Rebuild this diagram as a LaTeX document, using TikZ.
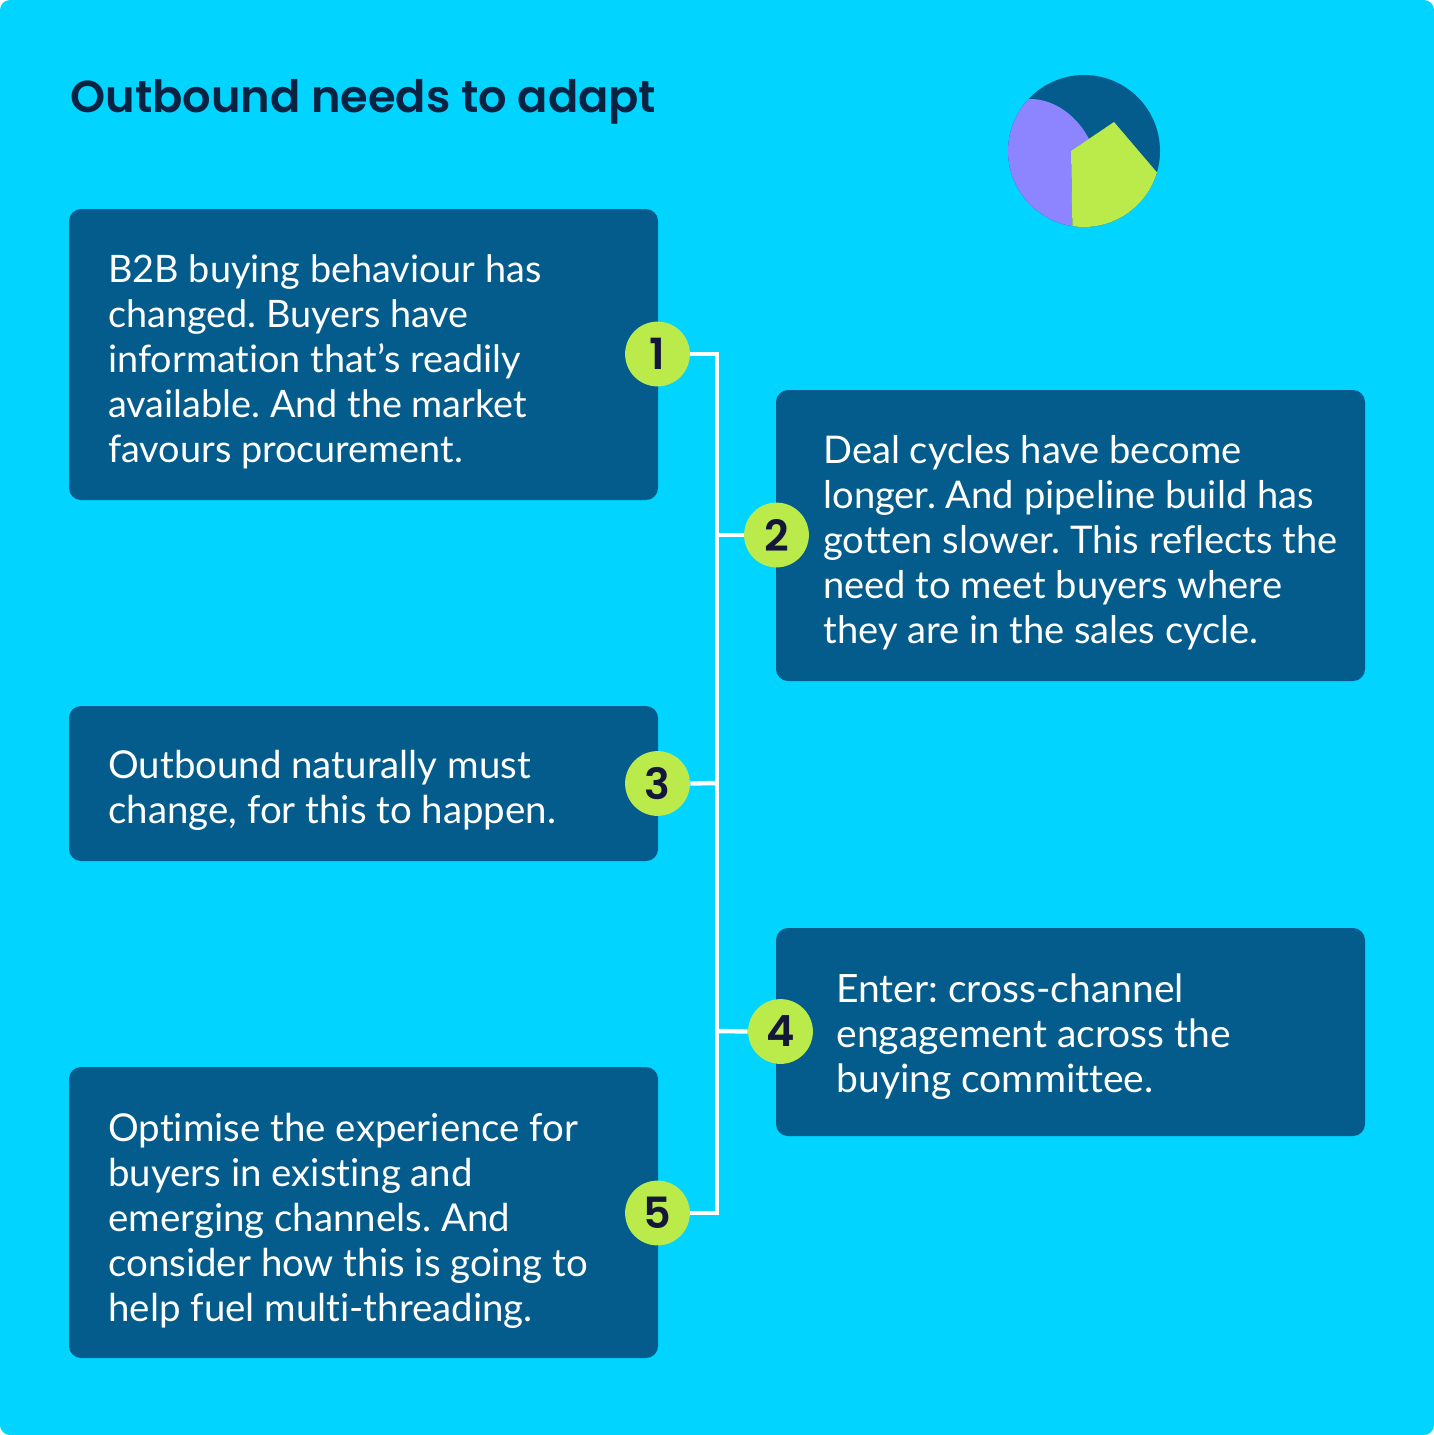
\documentclass[tikz,border=0pt]{standalone}
\usepackage{fontspec}
\setmainfont{Lato}[Ligatures=NoCommon]
\newfontfamily\headfont{Poppins SemiBold}
\definecolor{bgc}{HTML}{00D4FF}
\definecolor{boxc}{HTML}{035C8C}
\definecolor{limec}{HTML}{BBEB4B}
\definecolor{purpc}{HTML}{8C85FF}
\definecolor{navyc}{HTML}{14163A}
\definecolor{titlec}{HTML}{0B2343}
\tikzset{
  card/.style={fill=boxc,draw=none,rounded corners=6pt},
  cardtext/.style={anchor=north west,inner sep=0pt,text=white,align=left,font=\frenchspacing\fontsize{#1}{22.5}\selectfont},
  badge/.style={circle,fill=limec,draw=none,minimum size=32.4pt,inner sep=0pt,text=navyc,font=\headfont\fontsize{21.5}{21.5}\selectfont},
  wire/.style={draw=white,line width=2.2pt}
}
\begin{document}
\begin{tikzpicture}[x=0.5pt,y=-0.5pt]
\useasboundingbox (0,0) rectangle (1434,1435);
\fill[white] (0,0) rectangle (1434,1435);
\fill[bgc,rounded corners=5pt] (0,0) rectangle (1434,1435);
\node[anchor=base west,inner sep=0pt,text=titlec,font=\headfont\fontsize{22.35}{26}\selectfont] (title) at (70,112) {Outbound needs to adapt};
% pie
\fill[boxc] (1084,151) circle [radius=76];
\begin{scope}
\clip (1084,151) circle [radius=76];
\fill[purpc] (1028,99) .. controls (1052,98) and (1076,114) .. (1089,139) -- (1071,151) -- (1072.5,232) -- (990,232) -- (990,99) -- cycle;
\fill[limec] (1114,122) -- (1071,151) -- (1072.5,232) -- (1175,232) -- (1175,193) -- (1157,172.5) -- cycle;
\end{scope}
% cards
\fill[card] (69,209) rectangle (658,500);
\fill[card] (776,390) rectangle (1365,681);
\fill[card] (69,706) rectangle (658,861);
\fill[card] (776,928) rectangle (1365,1136);
\fill[card] (69,1067) rectangle (658,1358);
\node[cardtext=18.9] (t1) at (108,254.5) {B2B buying behaviour has\\changed. Buyers have\\information that’s readily\\available. And the market\\favours procurement.};
\node[cardtext=19.05] (t2) at (823,435.5) {Deal cycles have become\\longer. And pipeline build has\\gotten slower. This reflects the\\need to meet buyers where\\they are in the sales cycle.};
\node[cardtext=19.2] (t3) at (108,749.5) {Outbound naturally must\\change, for this to happen.};
\node[cardtext=19.5] (t4) at (836,973) {Enter: cross-channel\\engagement across the\\buying committee.};
\node[cardtext=19.2] (t5) at (108,1112.5) {Optimise the experience for\\buyers in existing and\\emerging channels. And\\consider how this is going to\\help fuel multi-threading.};
% connectors
\coordinate (top) at (717,354);
\coordinate (bot) at (717,1213);
\coordinate (j2) at (717,535);
\coordinate (j3) at (717,783);
\coordinate (j4) at (717,1031);
\node[badge] (n1) at (657.5,354) {1};
\node[badge] (n2) at (776.5,535) {2};
\node[badge] (n3) at (657.5,783.5) {3};
\node[badge] (n4) at (780.5,1031.5) {4};
\node[badge] (n5) at (657.5,1213) {5};
\draw[wire,line join=miter] (n1.east) -- (top) -- (bot) -- (n5.east);
\draw[wire] (j2) -- (n2.west);
\draw[wire] (j3) -- (n3.east);
\draw[wire] (j4) -- (n4.west);
\end{tikzpicture}
\end{document}
